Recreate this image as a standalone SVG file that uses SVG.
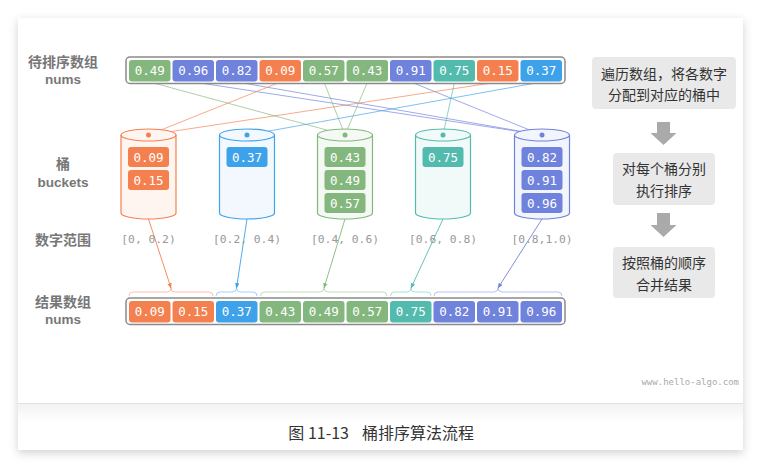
<svg xmlns="http://www.w3.org/2000/svg" width="761" height="469" viewBox="0 0 761 469">
<defs>
<filter id="sh" x="-10%" y="-10%" width="120%" height="125%"><feDropShadow dx="0" dy="3" stdDeviation="5" flood-color="#000" flood-opacity="0.18"/></filter>
<linearGradient id="cap" x1="0" y1="0" x2="0" y2="1"><stop offset="0" stop-color="#f2f2f2"/><stop offset="0.4" stop-color="#fff"/></linearGradient>
<marker id="ao" viewBox="0 0 10 10" refX="9" refY="5" markerWidth="6" markerHeight="6" orient="auto"><path d="M0,1 L10,5 L0,9 z" fill="#f5804f"/></marker>
<marker id="ab" viewBox="0 0 10 10" refX="9" refY="5" markerWidth="6" markerHeight="6" orient="auto"><path d="M0,1 L10,5 L0,9 z" fill="#3da2e9"/></marker>
<marker id="ag" viewBox="0 0 10 10" refX="9" refY="5" markerWidth="6" markerHeight="6" orient="auto"><path d="M0,1 L10,5 L0,9 z" fill="#84b77e"/></marker>
<marker id="at" viewBox="0 0 10 10" refX="9" refY="5" markerWidth="6" markerHeight="6" orient="auto"><path d="M0,1 L10,5 L0,9 z" fill="#52bbae"/></marker>
<marker id="ap" viewBox="0 0 10 10" refX="9" refY="5" markerWidth="6" markerHeight="6" orient="auto"><path d="M0,1 L10,5 L0,9 z" fill="#6f82dc"/></marker>
</defs>
<style>
.o{fill:#f5804f}.b{fill:#3da2e9}.g{fill:#84b77e}.t{fill:#52bbae}.p{fill:#6f82dc}
.ct{font-family:"DejaVu Sans Mono","Liberation Mono",monospace;font-size:12.5px;fill:#fff;text-anchor:middle}
.lb{font-family:"Noto Sans CJK SC","Noto Sans",sans-serif;font-size:14px;font-weight:bold;fill:#777;text-anchor:middle}
.le{font-family:"Liberation Sans",Arial,sans-serif;font-size:13.5px;font-weight:bold;fill:#777;text-anchor:middle}
.rg{font-family:"DejaVu Sans Mono","Liberation Mono",monospace;font-size:11.3px;fill:#999;text-anchor:middle}
.st{font-family:"Noto Sans CJK SC","Noto Sans",sans-serif;font-size:14px;fill:#333;text-anchor:middle}
.box{fill:#e9e9e9}
.frame{fill:#fff;stroke:#8a8a8a;stroke-width:1.5}
.ln{fill:none;stroke-width:0.9;stroke-opacity:0.75}
.arr{fill:none;stroke-width:0.9}
.br{fill:none;stroke-width:0.9;stroke-opacity:0.55}
.cap{font-family:"Noto Sans CJK SC","Noto Sans",sans-serif;font-size:16px;fill:#333}
</style>
<rect width="761" height="469" fill="#fff"/>
<rect x="18" y="18" width="725" height="432" fill="#fff" filter="url(#sh)"/>
<rect x="18" y="403" width="725" height="47" fill="url(#cap)"/>
<line x1="18" y1="403.5" x2="743" y2="403.5" stroke="#e2e2e2" stroke-width="1"/>
<text class="cap" x="349" y="439" text-anchor="end">图 11-13</text>
<text class="cap" x="362" y="439">桶排序算法流程</text>
<text x="739" y="385" font-family="DejaVu Sans Mono,monospace" font-size="9" fill="#aaa" text-anchor="end">www.hello-algo.com</text>

<g id="labels">
<text class="lb" x="63" y="67">待排序数组</text>
<text class="le" x="63" y="84">nums</text>
<text class="lb" x="63" y="169">桶</text>
<text class="le" x="63" y="187">buckets</text>
<text class="lb" x="63" y="245">数字范围</text>
<text class="lb" x="63" y="307">结果数组</text>
<text class="le" x="63" y="324">nums</text>
</g>

<g id="connectors">
<line class="ln" stroke="#84b77e" x1="150" y1="82" x2="345" y2="135"/>
<line class="ln" stroke="#6f82dc" x1="193.5" y1="82" x2="542" y2="135"/>
<line class="ln" stroke="#6f82dc" x1="237" y1="82" x2="542" y2="135"/>
<line class="ln" stroke="#f5804f" x1="280.5" y1="82" x2="148.5" y2="135"/>
<line class="ln" stroke="#84b77e" x1="324" y1="82" x2="345" y2="135"/>
<line class="ln" stroke="#84b77e" x1="367.5" y1="82" x2="345" y2="135"/>
<line class="ln" stroke="#6f82dc" x1="411" y1="82" x2="542" y2="135"/>
<line class="ln" stroke="#52bbae" x1="454.5" y1="82" x2="443" y2="135"/>
<line class="ln" stroke="#f5804f" x1="498" y1="82" x2="148.5" y2="135"/>
<line class="ln" stroke="#3da2e9" x1="541.5" y1="82" x2="247" y2="135"/>
<line class="arr" stroke="#f5804f" x1="148.5" y1="219" x2="171" y2="288" marker-end="url(#ao)"/>
<line class="arr" stroke="#3da2e9" x1="247" y1="219" x2="236.5" y2="288" marker-end="url(#ab)"/>
<line class="arr" stroke="#84b77e" x1="345" y1="219" x2="324" y2="288" marker-end="url(#ag)"/>
<line class="arr" stroke="#52bbae" x1="443" y1="219" x2="411" y2="288" marker-end="url(#at)"/>
<line class="arr" stroke="#6f82dc" x1="542" y1="219" x2="498" y2="288" marker-end="url(#ap)"/>
<path class="br" stroke="#f5804f" d="M129,296 Q129,292 133,292 L167,292 Q171,292 171,288 Q171,292 175,292 L209,292 Q213,292 213,296"/>
<path class="br" stroke="#3da2e9" d="M216,296 Q216,292 220,292 L232.5,292 Q236.5,292 236.5,288 Q236.5,292 240.5,292 L253,292 Q257,292 257,296"/>
<path class="br" stroke="#84b77e" d="M260.5,296 Q260.5,292 264.5,292 L320,292 Q324,292 324,288 Q324,292 328,292 L383,292 Q387,292 387,296"/>
<path class="br" stroke="#52bbae" d="M390.5,296 Q390.5,292 394.5,292 L407,292 Q411,292 411,288 Q411,292 415,292 L427,292 Q431,292 431,296"/>
<path class="br" stroke="#6f82dc" d="M434,296 Q434,292 438,292 L494,292 Q498,292 498,288 Q498,292 502,292 L558,292 Q562,292 562,296"/>
</g>

<g id="input">
<rect class="frame" x="126" y="57" width="439" height="26.5" rx="4"/>
<rect class="g" x="129" y="60" width="41.5" height="21.5" rx="3"/><text class="ct" x="149.75" y="75">0.49</text>
<rect class="p" x="172.5" y="60" width="41.5" height="21.5" rx="3"/><text class="ct" x="193.25" y="75">0.96</text>
<rect class="p" x="216" y="60" width="41.5" height="21.5" rx="3"/><text class="ct" x="236.75" y="75">0.82</text>
<rect class="o" x="259.5" y="60" width="41.5" height="21.5" rx="3"/><text class="ct" x="280.25" y="75">0.09</text>
<rect class="g" x="303" y="60" width="41.5" height="21.5" rx="3"/><text class="ct" x="323.75" y="75">0.57</text>
<rect class="g" x="346.5" y="60" width="41.5" height="21.5" rx="3"/><text class="ct" x="367.25" y="75">0.43</text>
<rect class="p" x="390" y="60" width="41.5" height="21.5" rx="3"/><text class="ct" x="410.75" y="75">0.91</text>
<rect class="t" x="433.5" y="60" width="41.5" height="21.5" rx="3"/><text class="ct" x="454.25" y="75">0.75</text>
<rect class="o" x="477" y="60" width="41.5" height="21.5" rx="3"/><text class="ct" x="497.75" y="75">0.15</text>
<rect class="b" x="520.5" y="60" width="41.5" height="21.5" rx="3"/><text class="ct" x="541.25" y="75">0.37</text>
</g>

<g id="bucket0">
<path d="M121,135 L121,213 A27.5,6 0 0 0 176,213 L176,135" fill="#fef5f1" stroke="#f5804f" stroke-width="1.2"/>
<ellipse cx="148.5" cy="135" rx="27.5" ry="6" fill="#fef5f1" stroke="#f5804f" stroke-width="1.2"/>
<circle cx="148.5" cy="135" r="2.5" class="o"/>
<rect class="o" x="128" y="147" width="41" height="20" rx="3"/><text class="ct" x="148.5" y="161.5">0.09</text>
<rect class="o" x="128" y="170" width="41" height="20" rx="3"/><text class="ct" x="148.5" y="184.5">0.15</text>
<text class="rg" x="148.5" y="243">[0, 0.2)</text>
</g>
<g id="bucket1">
<path d="M219.5,135 L219.5,213 A27.5,6 0 0 0 274.5,213 L274.5,135" fill="#f2f8fe" stroke="#3da2e9" stroke-width="1.2"/>
<ellipse cx="247" cy="135" rx="27.5" ry="6" fill="#f2f8fe" stroke="#3da2e9" stroke-width="1.2"/>
<circle cx="247" cy="135" r="2.5" class="b"/>
<rect class="b" x="226.5" y="147" width="41" height="20" rx="3"/><text class="ct" x="247" y="161.5">0.37</text>
<text class="rg" x="247" y="243">[0.2, 0.4)</text>
</g>
<g id="bucket2">
<path d="M317.5,135 L317.5,213 A27.5,6 0 0 0 372.5,213 L372.5,135" fill="#f4f9f3" stroke="#84b77e" stroke-width="1.2"/>
<ellipse cx="345" cy="135" rx="27.5" ry="6" fill="#f4f9f3" stroke="#84b77e" stroke-width="1.2"/>
<circle cx="345" cy="135" r="2.5" class="g"/>
<rect class="g" x="324.5" y="147" width="41" height="20" rx="3"/><text class="ct" x="345" y="161.5">0.43</text>
<rect class="g" x="324.5" y="170" width="41" height="20" rx="3"/><text class="ct" x="345" y="184.5">0.49</text>
<rect class="g" x="324.5" y="193" width="41" height="20" rx="3"/><text class="ct" x="345" y="207.5">0.57</text>
<text class="rg" x="345" y="243">[0.4, 0.6)</text>
</g>
<g id="bucket3">
<path d="M415.5,135 L415.5,213 A27.5,6 0 0 0 470.5,213 L470.5,135" fill="#f2faf9" stroke="#52bbae" stroke-width="1.2"/>
<ellipse cx="443" cy="135" rx="27.5" ry="6" fill="#f2faf9" stroke="#52bbae" stroke-width="1.2"/>
<circle cx="443" cy="135" r="2.5" class="t"/>
<rect class="t" x="422.5" y="147" width="41" height="20" rx="3"/><text class="ct" x="443" y="161.5">0.75</text>
<text class="rg" x="443" y="243">[0.6, 0.8)</text>
</g>
<g id="bucket4">
<path d="M514.5,135 L514.5,213 A27.5,6 0 0 0 569.5,213 L569.5,135" fill="#f3f5fd" stroke="#6f82dc" stroke-width="1.2"/>
<ellipse cx="542" cy="135" rx="27.5" ry="6" fill="#f3f5fd" stroke="#6f82dc" stroke-width="1.2"/>
<circle cx="542" cy="135" r="2.5" class="p"/>
<rect class="p" x="521.5" y="147" width="41" height="20" rx="3"/><text class="ct" x="542" y="161.5">0.82</text>
<rect class="p" x="521.5" y="170" width="41" height="20" rx="3"/><text class="ct" x="542" y="184.5">0.91</text>
<rect class="p" x="521.5" y="193" width="41" height="20" rx="3"/><text class="ct" x="542" y="207.5">0.96</text>
<text class="rg" x="542" y="243">[0.8,1.0)</text>
</g>

<g id="output">
<rect class="frame" x="126" y="298" width="439" height="26.5" rx="4"/>
<rect class="o" x="129" y="301" width="41.5" height="21.5" rx="3"/><text class="ct" x="149.75" y="316">0.09</text>
<rect class="o" x="172.5" y="301" width="41.5" height="21.5" rx="3"/><text class="ct" x="193.25" y="316">0.15</text>
<rect class="b" x="216" y="301" width="41.5" height="21.5" rx="3"/><text class="ct" x="236.75" y="316">0.37</text>
<rect class="g" x="259.5" y="301" width="41.5" height="21.5" rx="3"/><text class="ct" x="280.25" y="316">0.43</text>
<rect class="g" x="303" y="301" width="41.5" height="21.5" rx="3"/><text class="ct" x="323.75" y="316">0.49</text>
<rect class="g" x="346.5" y="301" width="41.5" height="21.5" rx="3"/><text class="ct" x="367.25" y="316">0.57</text>
<rect class="t" x="390" y="301" width="41.5" height="21.5" rx="3"/><text class="ct" x="410.75" y="316">0.75</text>
<rect class="p" x="433.5" y="301" width="41.5" height="21.5" rx="3"/><text class="ct" x="454.25" y="316">0.82</text>
<rect class="p" x="477" y="301" width="41.5" height="21.5" rx="3"/><text class="ct" x="497.75" y="316">0.91</text>
<rect class="p" x="520.5" y="301" width="41.5" height="21.5" rx="3"/><text class="ct" x="541.25" y="316">0.96</text>
</g>

<g id="step1">
<rect class="box" x="592" y="57" width="144" height="52" rx="4"/>
<text class="st" x="664" y="79">遍历数组，将各数字</text>
<text class="st" x="664" y="100">分配到对应的桶中</text>
</g>
<g id="arrow1"><path d="M657,122 L670,122 L670,133 L676.5,133 L663.5,145 L650.5,133 L657,133 z" fill="#aaa"/></g>
<g id="step2">
<rect class="box" x="613" y="153" width="102" height="52" rx="4"/>
<text class="st" x="664" y="174">对每个桶分别</text>
<text class="st" x="664" y="196">执行排序</text>
</g>
<g id="arrow2"><path d="M657,213 L670,213 L670,225 L676.5,225 L663.5,237 L650.5,225 L657,225 z" fill="#aaa"/></g>
<g id="step3">
<rect class="box" x="613" y="247" width="102" height="51" rx="4"/>
<text class="st" x="664" y="268">按照桶的顺序</text>
<text class="st" x="664" y="290">合并结果</text>
</g>
</svg>
